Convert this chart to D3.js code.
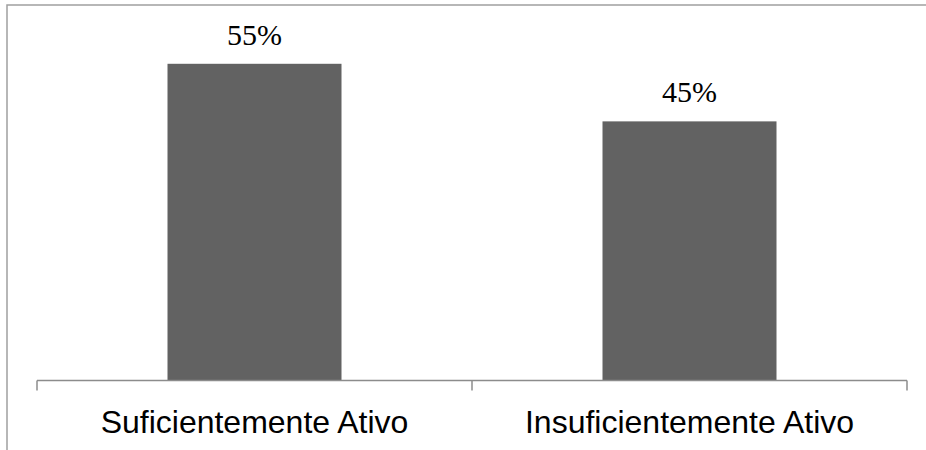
<!DOCTYPE html>
<html>
<head>
<meta charset="utf-8">
<script src="https://cdn.jsdelivr.net/npm/d3@7"></script>
<style>
  html, body { margin: 0; padding: 0; background: #fff; overflow: hidden; }
  svg { display: block; }
</style>
</head>
<body>
<div id="chart"></div>
<script>
const categories = ['Suficientemente Ativo', 'Insuficientemente Ativo']
const values = [55, 45]
const valueLabels = ['55%', '45%']

const width = 926
const height = 450
const plot = { left: 37, right: 907, top: 35, bottom: 380.5 }

const svg = d3.select('#chart').append('svg').attr('width', width).attr('height', height)

// chart frame: only the top and left edges are inside the picture
const frame = d3.path()
frame.moveTo(width, 5)
frame.lineTo(7, 5)
frame.lineTo(7, height)
svg.append('path')
  .attr('d', frame)
  .attr('fill', 'none').attr('stroke', '#a0a0a0').attr('stroke-width', 1.5)

const x = d3.scaleBand()
  .domain(categories)
  .range([plot.left, plot.right])
  .paddingInner(0.6)
  .paddingOuter(0.3)

const y = d3.scaleLinear().domain([0, 60]).range([plot.bottom, plot.top])

svg.selectAll('rect.bar')
  .data(values)
  .enter()
  .append('rect')
  .attr('class', 'bar')
  .attr('x', (d, i) => x(categories[i]))
  .attr('width', x.bandwidth())
  .attr('y', (d) => y(d))
  .attr('height', (d) => y(0) - y(d))
  .attr('fill', '#626262')

svg.selectAll('text.val')
  .data(values)
  .enter()
  .append('text')
  .attr('class', 'val')
  .attr('x', (d, i) => x(categories[i]) + x.bandwidth() / 2)
  .attr('y', (d) => y(d) - 19)
  .attr('text-anchor', 'middle')
  .style('font-family', '"Liberation Serif", "Times New Roman", serif')
  .style('font-size', '30px')
  .attr('fill', '#000')
  .text((d, i) => valueLabels[i])

// category axis: line plus ticks at the band boundaries
const axis = svg.append('g').attr('stroke', '#8c8c8c').attr('stroke-width', 1.5)
axis.append('line')
  .attr('x1', plot.left).attr('x2', plot.right)
  .attr('y1', y(0)).attr('y2', y(0))
const edges = d3.range(categories.length + 1).map((i) => plot.left + i * x.step())
axis.selectAll('line.tick')
  .data(edges)
  .enter()
  .append('line')
  .attr('class', 'tick')
  .attr('x1', (d) => d).attr('x2', (d) => d)
  .attr('y1', y(0)).attr('y2', y(0) + 10)

svg.selectAll('text.cat')
  .data(categories)
  .enter()
  .append('text')
  .attr('class', 'cat')
  .attr('x', (d) => x(d) + x.bandwidth() / 2)
  .attr('y', 433)
  .attr('text-anchor', 'middle')
  .style('font-family', '"Liberation Sans", Arial, sans-serif')
  .style('font-size', '32px')
  .attr('fill', '#000')
  .text((d) => d)
</script>
</body>
</html>
